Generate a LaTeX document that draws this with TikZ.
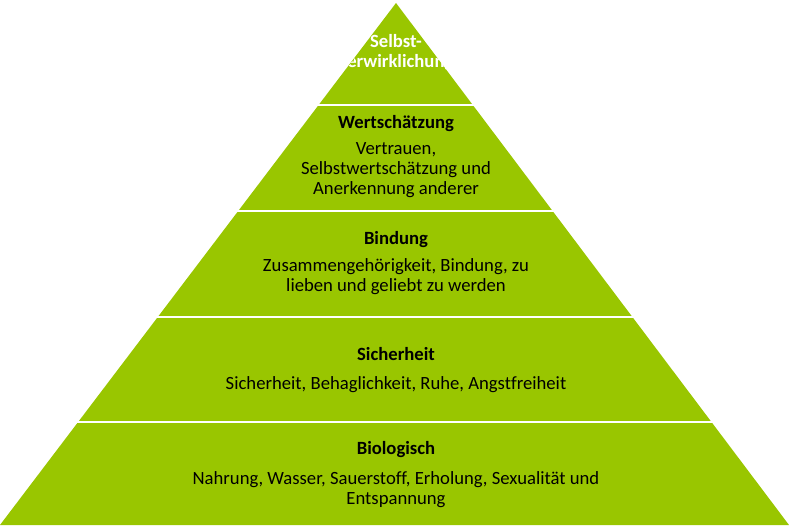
\documentclass[tikz,border=0pt]{standalone}
\usepackage{fontspec}
\setmainfont[Ligatures={NoCommon}]{Carlito}
\usetikzlibrary{positioning}
\definecolor{pyrgreen}{RGB}{153,198,0}
\tikzset{
    title/.style={font=\fontsize{14}{15}\selectfont\bfseries, text=#1},
    title/.default=black,
    body/.style={font=\fontsize{14}{15}\selectfont, align=center},
    gap/.style={white, line width=2.2pt},
}
\begin{document}
\begin{tikzpicture}[x=0.75pt, y=-0.75pt]
    \useasboundingbox (0,0) rectangle (789,528);

    % Pyramid
    \coordinate (apex) at (396,3);
    \coordinate (bl) at (0,525);
    \coordinate (br) at (789,525);
    \fill[pyrgreen] (apex) -- (br) -- (bl) -- cycle;

    % Layer borders
    \foreach \y in {105,211,317,422} {
        \draw[gap] (0,\y) -- (789,\y);
    }

    % Top layer, clipped text
    \begin{scope}
        \clip (apex) -- (br) -- (bl) -- cycle;
        \node[title=white, align=center] (top) at (396,53) {Selbst-\\verwirklichung};
    \end{scope}

    % Layers
    \node[title] (wert) at (396,124) {Wertschätzung};
    \node[body, below=1pt of wert] (wertb) {Vertrauen,\\Selbstwertschätzung und\\Anerkennung anderer};

    \node[title] (bind) at (396,240) {Bindung};
    \node[body, below=1pt of bind] (bindb) {Zusammengehörigkeit, Bindung, zu\\lieben und geliebt zu werden};

    \node[title] (sich) at (396,354) {Sicherheit};
    \node[body, below=5pt of sich] (sichb) {Sicherheit, Behaglichkeit, Ruhe, Angstfreiheit};

    \node[title] (bio) at (396,450) {Biologisch};
    \node[body, below=3pt of bio] (biob) {Nahrung, Wasser, Sauerstoff, Erholung, Sexualität und\\Entspannung};
\end{tikzpicture}
\end{document}
